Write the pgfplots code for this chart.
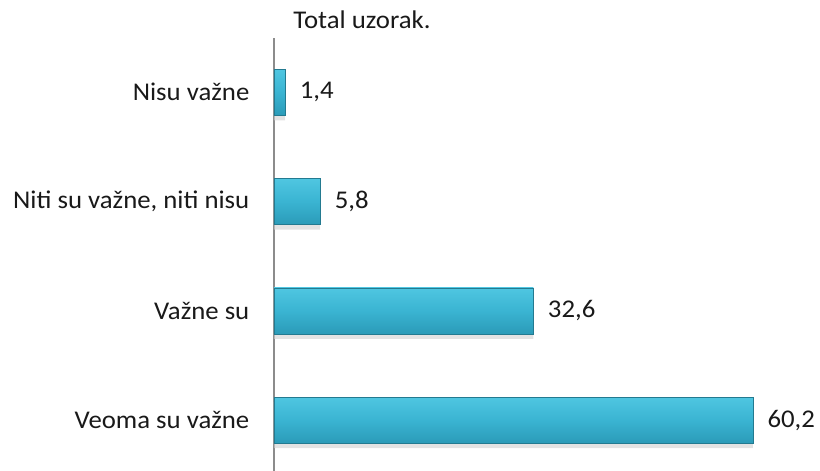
\documentclass[border=0pt]{standalone}
\usepackage{fontspec}
\setmainfont[FakeStretch=1.05]{Carlito}
\usepackage{pgfplots}
\pgfplotsset{compat=1.18}
\definecolor{barmid}{HTML}{3AB4D2}
\definecolor{bartop}{HTML}{4FC6E1}
\definecolor{barbot}{HTML}{2B9BB8}
\definecolor{baredge}{HTML}{237A90}
\definecolor{axgray}{HTML}{8C8C8C}
\begin{document}
\begin{tikzpicture}
\begin{axis}[
  scale only axis,
  width=541pt, height=437pt,
  xbar, bar shift=0pt,
  xmin=0, xmax=68,
  ymin=-0.5, ymax=3.5,
  bar width=46pt,
  axis y line=left,
  axis x line=none,
  y axis line style={draw=axgray, line width=1.4pt, -},
  ytick={0,1,2,3},
  yticklabels={Veoma su važne, Važne su, {Niti su važne, niti nisu}, Nisu važne},
  ytick style={draw=none},
  yticklabel style={font=\fontsize{25.5}{28}\selectfont, text=black!90, xshift=-19pt},
  /pgf/number format/assume math mode=true,
  /pgf/number format/use comma,
  /pgf/number format/fixed,
  /pgf/number format/fixed zerofill,
  /pgf/number format/precision=1,
  every node near coord/.append style={font=\fontsize{25.5}{28}\selectfont, text=black!90, anchor=west, xshift=11pt},
  clip=false,
  barstyle/.style={draw=baredge, line width=0.6pt, top color=bartop, bottom color=barbot, middle color=barmid, nodes near coords},
]
\addplot[draw=none, fill=black!18, fill opacity=0.6, bar shift=-5pt, forget plot] coordinates {
  (60.2,0) (32.6,1) (5.8,2) (1.4,3)
};
\addplot[barstyle] coordinates {(60.2,0)};
\addplot[barstyle] coordinates {(32.6,1)};
\addplot[barstyle] coordinates {(5.8,2)};
\addplot[barstyle] coordinates {(1.4,3)};
\end{axis}
\node[anchor=base, font=\fontsize{25.5}{28}\selectfont, text=black!90] at (88pt,445.7pt) {Total uzorak.};
\pgfresetboundingbox
\path[use as bounding box] (-274pt,3.7pt) rectangle (546pt,474.7pt);
\end{tikzpicture}
\end{document}
